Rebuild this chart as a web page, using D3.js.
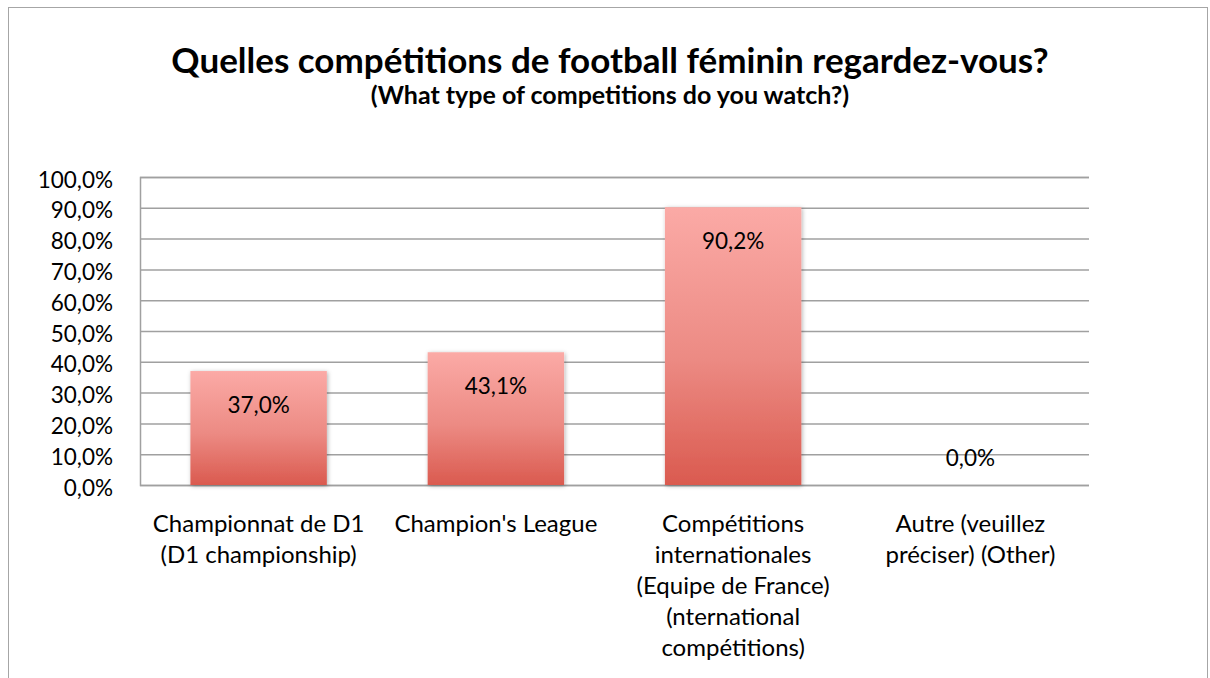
<!DOCTYPE html>
<html>
<head>
<meta charset="utf-8">
<script src="https://cdn.jsdelivr.net/npm/d3@7"></script>
<style>
  html, body { margin: 0; padding: 0; background: #fff; }
  svg { display: block; font-family: Lato, "Open Sans", sans-serif; }
</style>
</head>
<body>
<svg id="chart" width="1210" height="678"></svg>
<script>
// Survey answers: share of respondents per competition
const categories = [
  ["Championnat de D1", "(D1 championship)"],
  ["Champion's League"],
  ["Compétitions", "internationales", "(Equipe de France)", "(nternational", "compétitions)"],
  ["Autre (veuillez", "préciser) (Other)"]
];
const values = [37.0, 43.1, 90.2, 0.0];
const valueLabels = ["37,0%", "43,1%", "90,2%", "0,0%"];
const yTicks = [0, 10, 20, 30, 40, 50, 60, 70, 80, 90, 100];
const yTickLabels = ["0,0%", "10,0%", "20,0%", "30,0%", "40,0%", "50,0%", "60,0%", "70,0%", "80,0%", "90,0%", "100,0%"];

const svg = d3.select("#chart");
const plot = { left: 140, right: 1089, top: 177, bottom: 485 };

// chart frame
svg.append("rect")
  .attr("x", 8.5).attr("y", 7.5)
  .attr("width", 1199).attr("height", 700)
  .attr("fill", "#fff").attr("stroke", "#a6a6a6").attr("stroke-width", 1);

// title
svg.append("text")
  .attr("x", 610).attr("y", 73)
  .attr("text-anchor", "middle")
  .attr("font-weight", "bold").attr("font-size", 35)
  .text("Quelles compétitions de football féminin regardez-vous?");
svg.append("text")
  .attr("x", 610).attr("y", 104)
  .attr("text-anchor", "middle")
  .attr("font-weight", "bold").attr("font-size", 25)
  .text("(What type of competitions do you watch?)");

const x = d3.scaleBand()
  .domain(d3.range(categories.length))
  .range([plot.left, plot.right])
  .paddingInner(0.425).paddingOuter(0.2125);

const y = d3.scaleLinear().domain([0, 100]).range([plot.bottom, plot.top]);

// gradient + shadow for bars
const defs = svg.append("defs");
const grad = defs.append("linearGradient")
  .attr("id", "barGrad").attr("x1", 0).attr("y1", 0).attr("x2", 0).attr("y2", 1);
grad.append("stop").attr("offset", "0%").attr("stop-color", "#fbaaa6");
grad.append("stop").attr("offset", "55%").attr("stop-color", "#ec8a83");
grad.append("stop").attr("offset", "100%").attr("stop-color", "#da5a4f");
const shadow = defs.append("filter").attr("id", "barShadow")
  .attr("x", "-10%").attr("y", "-10%").attr("width", "130%").attr("height", "130%");
shadow.append("feDropShadow")
  .attr("dx", 1).attr("dy", 1).attr("stdDeviation", 2)
  .attr("flood-color", "#000").attr("flood-opacity", 0.3);

// horizontal gridlines
const yAxis = d3.axisLeft(y).tickValues(yTicks)
  .tickSize(-(plot.right - plot.left)).tickFormat("");
svg.append("g")
  .attr("transform", `translate(${plot.left},0)`)
  .call(yAxis)
  .call(g => g.select(".domain").attr("stroke", "#a0a0a0").attr("stroke-width", 1.5))
  .call(g => g.selectAll(".tick line").attr("stroke", "#a0a0a0").attr("stroke-width", 1.5));

// tick labels
svg.append("g").selectAll("text")
  .data(yTicks)
  .join("text")
  .attr("x", 113).attr("y", d => y(d) + 10.5)
  .attr("text-anchor", "end")
  .attr("font-size", 22.5).attr("fill", "#000")
  .text((d, i) => yTickLabels[i]);

// bars
svg.append("g").selectAll("rect")
  .data(values)
  .join("rect")
  .attr("x", (d, i) => x(i))
  .attr("y", d => y(d))
  .attr("width", x.bandwidth())
  .attr("height", d => y(0) - y(d))
  .attr("fill", "url(#barGrad)")
  .attr("filter", "url(#barShadow)");

// value labels (inside end; the empty bar gets its label just above the axis)
svg.append("g").selectAll("text")
  .data(values)
  .join("text")
  .attr("x", (d, i) => x(i) + x.bandwidth() / 2)
  .attr("y", d => d > 0 ? y(d) + 41.5 : y(d) - 19)
  .attr("text-anchor", "middle")
  .attr("font-size", 22.5).attr("fill", "#000")
  .text((d, i) => valueLabels[i]);

// category labels
const cat = svg.append("g").selectAll("text")
  .data(categories)
  .join("text")
  .attr("text-anchor", "middle")
  .attr("font-size", 24).attr("fill", "#000");
cat.selectAll("tspan")
  .data((d, i) => d.map(line => ({ line, i })))
  .join("tspan")
  .attr("x", d => x(d.i) + x.bandwidth() / 2)
  .attr("y", (d, j) => 532 + j * 31)
  .text(d => d.line);
</script>
</body>
</html>
